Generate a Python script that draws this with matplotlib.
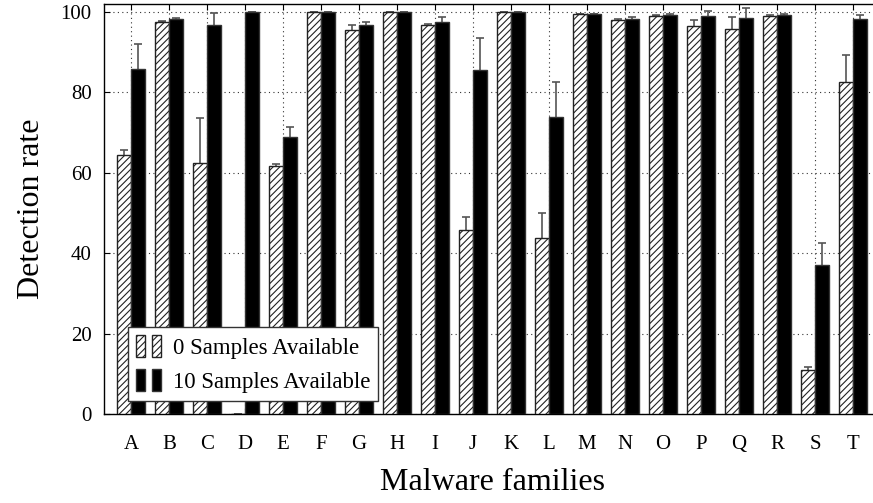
import numpy as np
import matplotlib
matplotlib.use("Agg")
import matplotlib.pyplot as plt
from matplotlib.legend_handler import HandlerTuple

plt.rcParams['font.family'] = ['Liberation Serif', 'DejaVu Serif']
plt.rcParams['hatch.linewidth'] = 0.8

families = list("ABCDEFGHIJKLMNOPQRST")

# detection rate with no samples of the family in training
rate0 = [64.4, 97.6, 62.4, 0.0, 61.6, 100.0, 95.6, 100.0, 96.8, 45.8,
         100.0, 43.9, 99.5, 98.0, 99.1, 96.6, 95.8, 99.0, 10.9, 82.5]
err0 = [1.4, 0.2, 11.3, 0.0, 0.7, 0.0, 1.1, 0.0, 0.3, 3.2,
        0.0, 6.2, 0.1, 0.2, 0.2, 1.4, 2.9, 0.3, 0.9, 6.9]

# detection rate with 10 samples available
rate10 = [85.8, 98.3, 96.7, 100.0, 68.9, 100.0, 96.9, 100.0, 97.5, 85.6,
          100.0, 73.8, 99.5, 98.2, 99.3, 99.1, 98.6, 99.3, 37.1, 98.2]
err10 = [6.3, 0.3, 3.1, 0.0, 2.4, 0.0, 0.7, 0.0, 1.3, 7.9,
         0.0, 8.9, 0.1, 0.6, 0.2, 1.2, 2.3, 0.3, 5.4, 1.1]

fig = plt.figure(figsize=(8.73, 5.03), dpi=100)
ax = fig.add_axes([104 / 873, 89 / 503, 776 / 873, 410 / 503])

x = np.arange(len(families))
w = 0.37

ax.errorbar(x - w / 2, rate0, yerr=err0, fmt='none', ecolor='#555555',
            elinewidth=1.2, capsize=3, capthick=1.2, zorder=2)
ax.errorbar(x + w / 2, rate10, yerr=err10, fmt='none', ecolor='#555555',
            elinewidth=1.2, capsize=3, capthick=1.2, zorder=2)
b0 = ax.bar(x - w / 2, rate0, w, color='white', edgecolor='#222222',
            hatch='/////', linewidth=1, zorder=3)
b10 = ax.bar(x + w / 2, rate10, w, color='black', edgecolor='#333333',
             linewidth=1, zorder=3)

ax.set_xlim(-0.71, len(families) - 1 + 0.71)
ax.set_ylim(0, 102)
ax.set_xticks(x)
ax.set_xticklabels(families)
ax.set_yticks([0, 20, 40, 60, 80, 100])
ax.tick_params(direction='in', length=4, width=0.8, top=True, labelsize=15)
ax.tick_params(axis='x', pad=15)
ax.tick_params(axis='y', pad=9)

ax.grid(True, color='#333333', linestyle=(0, (1, 3)), linewidth=0.8, zorder=0)
ax.set_axisbelow(True)
for s in ax.spines.values():
    s.set_linewidth(1)

ax.set_xlabel("Malware families", fontsize=23, labelpad=10)
ax.set_ylabel("Detection rate", fontsize=23, labelpad=10)

h0 = b0.patches[0]
h10 = b10.patches[0]
leg = ax.legend([(h0, h0), (h10, h10)],
                ["0 Samples Available", "10 Samples Available"],
                handler_map={tuple: HandlerTuple(ndivide=None, pad=0.3)},
                loc='lower left', bbox_to_anchor=(0.031, 0.032),
                borderaxespad=0, fontsize=16.5, fancybox=False, framealpha=1,
                handlelength=1.1, handleheight=1.1, handletextpad=0.5,
                borderpad=0.35, labelspacing=0.45)
leg.get_frame().set_edgecolor('#333333')
leg.get_frame().set_linewidth(1)
leg.set_zorder(5)

fig.savefig("out.png", dpi=100)
